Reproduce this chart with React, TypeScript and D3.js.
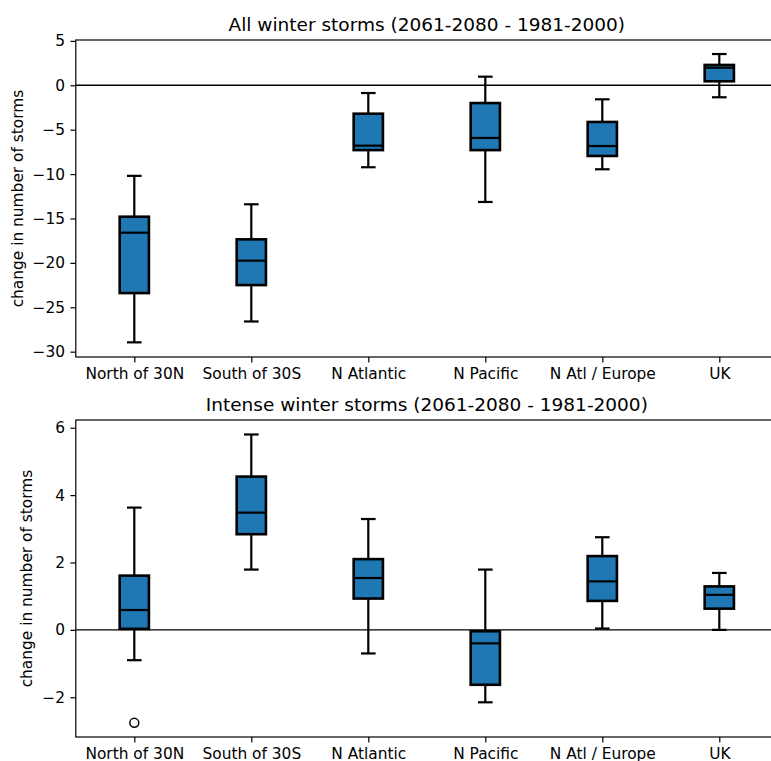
import React, { useRef, useEffect } from 'react';
import * as d3 from 'd3';

const regions = ['North of 30N', 'South of 30S', 'N Atlantic', 'N Pacific', 'N Atl / Europe', 'UK'];

// All winter storms
const allLow = [-28.95, -26.6, -9.23, -13.14, -9.46, -1.35];
const allQ1 = [-23.4, -22.5, -7.3, -7.3, -7.96, 0.45];
const allMed = [-16.6, -19.75, -6.8, -5.93, -6.84, 1.98];
const allQ3 = [-14.8, -17.35, -3.2, -2.0, -4.13, 2.29];
const allHigh = [-10.2, -13.4, -0.87, 0.97, -1.58, 3.52];
const allTicks = [-30, -25, -20, -15, -10, -5, 0, 5];

// Intense winter storms
const intLow = [-0.9, 1.79, -0.7, -2.15, 0.04, 0.0];
const intQ1 = [0.03, 2.84, 0.93, -1.63, 0.86, 0.63];
const intMed = [0.59, 3.48, 1.54, -0.4, 1.44, 1.04];
const intQ3 = [1.61, 4.55, 2.1, -0.04, 2.19, 1.29];
const intHigh = [3.63, 5.8, 3.29, 1.79, 2.75, 1.69];
const intOutliers = [[-2.76], [], [], [], [], []];
const intTicks = [-2, 0, 2, 4, 6];

const W = 771;
const H = 761;
const left = 75.8;
const right = 777.8;
const font = 'DejaVu Sans, sans-serif';

function App() {
  const ref = useRef<SVGSVGElement>(null);

  useEffect(() => {
    if (!ref.current) return;
    const svg = d3.select(ref.current);
    svg.selectAll('*').remove();

    const panels = [
      {
        title: 'All winter storms (2061-2080 - 1981-2000)',
        top: 40, bottom: 357, domain: [-30.6, 5.1], ticks: allTicks,
        low: allLow, q1: allQ1, med: allMed, q3: allQ3, high: allHigh,
        out: regions.map(() => [] as number[]), labelX: 18,
      },
      {
        title: 'Intense winter storms (2061-2080 - 1981-2000)',
        top: 420, bottom: 737, domain: [-3.18, 6.23], ticks: intTicks,
        low: intLow, q1: intQ1, med: intMed, q3: intQ3, high: intHigh,
        out: intOutliers, labelX: 27,
      },
    ];

    const x = d3.scaleLinear().domain([0.5, 6.5]).range([left, right]);
    const step = x(2) - x(1);
    const boxW = step * 0.25;
    const capW = boxW / 2;

    panels.forEach((p) => {
      const y = d3.scaleLinear().domain(p.domain).range([p.bottom, p.top]);
      const g = svg.append('g');

      // zero line
      g.append('line')
        .attr('x1', left).attr('x2', right)
        .attr('y1', y(0)).attr('y2', y(0))
        .attr('stroke', '#000').attr('stroke-width', 1.4);

      regions.forEach((_, i) => {
        const cx = x(i + 1);
        const bg = g.append('g').attr('stroke', '#000').attr('stroke-width', 2.2);
        bg.append('line').attr('x1', cx).attr('x2', cx).attr('y1', y(p.q1[i])).attr('y2', y(p.low[i]));
        bg.append('line').attr('x1', cx).attr('x2', cx).attr('y1', y(p.q3[i])).attr('y2', y(p.high[i]));
        bg.append('line').attr('x1', cx - capW / 2).attr('x2', cx + capW / 2).attr('y1', y(p.low[i])).attr('y2', y(p.low[i]));
        bg.append('line').attr('x1', cx - capW / 2).attr('x2', cx + capW / 2).attr('y1', y(p.high[i])).attr('y2', y(p.high[i]));
        bg.append('rect')
          .attr('x', cx - boxW / 2).attr('width', boxW)
          .attr('y', y(p.q3[i])).attr('height', y(p.q1[i]) - y(p.q3[i]))
          .attr('fill', '#1f77b4').attr('stroke-width', 2.6);
        bg.append('line').attr('x1', cx - boxW / 2).attr('x2', cx + boxW / 2).attr('y1', y(p.med[i])).attr('y2', y(p.med[i]));
        p.out[i].forEach((v) => {
          bg.append('circle').attr('cx', cx).attr('cy', y(v)).attr('r', 4.5)
            .attr('fill', 'none').attr('stroke-width', 1.5);
        });
      });

      // axes
      const ya = g.append('g').attr('transform', `translate(${left},0)`)
        .call(d3.axisLeft(y).tickValues(p.ticks).tickSize(5.4).tickPadding(5.4)
          .tickFormat((d) => d3.format('d')(d as number).replace('-', '\u2212')));
      const xa = g.append('g').attr('transform', `translate(0,${p.bottom})`)
        .call(d3.axisBottom(x).tickValues([1, 2, 3, 4, 5, 6]).tickSize(5.4).tickPadding(5.4)
          .tickFormat((d) => regions[(d as number) - 1]));
      [ya, xa].forEach((a) => {
        a.select('.domain').remove();
        a.selectAll('line').attr('stroke', '#000').attr('stroke-width', 1.2);
        a.selectAll('text').attr('fill', '#000').style('font-family', font).style('font-size', '15.4px');
      });

      g.append('rect')
        .attr('x', left).attr('y', p.top)
        .attr('width', right - left).attr('height', p.bottom - p.top)
        .attr('fill', 'none').attr('stroke', '#000').attr('stroke-width', 1.2);

      g.append('text')
        .attr('x', (left + right) / 2).attr('y', p.top - 9)
        .attr('text-anchor', 'middle')
        .style('font-family', font).style('font-size', '18.5px')
        .text(p.title);

      g.append('text')
        .attr('transform', `translate(${p.labelX},${(p.top + p.bottom) / 2}) rotate(-90)`)
        .attr('text-anchor', 'middle').attr('dy', '0.35em')
        .style('font-family', font).style('font-size', '15.4px')
        .text('change in number of storms');
    });
  }, []);

  return (
    <svg ref={ref} width={W} height={H} style={{ display: 'block', position: 'absolute', left: 0, top: 0, background: '#fff' }} />
  );
}

export default App;
